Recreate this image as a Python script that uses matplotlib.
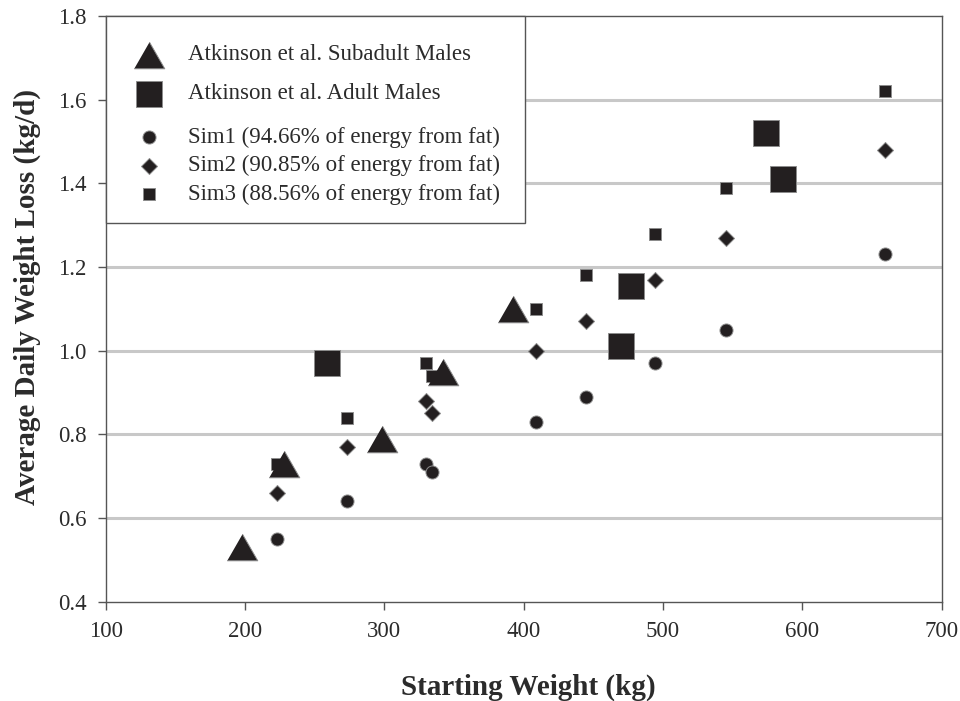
import matplotlib
matplotlib.use("Agg")
import matplotlib.pyplot as plt
from matplotlib.lines import Line2D
from matplotlib.patches import Rectangle

plt.rcParams['font.family'] = ['Liberation Serif', 'DejaVu Serif']

# Atkinson et al. observations
subadult_x = [198, 228, 298, 342, 392]
subadult_y = [0.53, 0.73, 0.79, 0.95, 1.10]
adult_x = [259, 470, 477, 574, 586]
adult_y = [0.97, 1.01, 1.155, 1.52, 1.41]

# Simulation runs (same starting weights)
sim_x = [223, 273, 330, 334, 409, 445, 494, 545, 659]
sim1_y = [0.55, 0.64, 0.73, 0.71, 0.83, 0.89, 0.97, 1.05, 1.23]
sim2_y = [0.66, 0.77, 0.88, 0.85, 1.00, 1.07, 1.17, 1.27, 1.48]
sim3_y = [0.73, 0.84, 0.97, 0.94, 1.10, 1.18, 1.28, 1.39, 1.62]

labels = ["Atkinson et al. Subadult Males",
          "Atkinson et al. Adult Males",
          "Sim1 (94.66% of energy from fat)",
          "Sim2 (90.85% of energy from fat)",
          "Sim3 (88.56% of energy from fat)"]

x_ticks = [100, 200, 300, 400, 500, 600, 700]
y_ticks = [0.4, 0.6, 0.8, 1.0, 1.2, 1.4, 1.6, 1.8]

FILL = '#231f20'
EDGE = '#8c8c8c'
TEXT = '#2b2b2b'
SPINE = '#555555'

tri = [(-1.0, -0.87), (1.0, -0.87), (0.0, 0.87)]
styles = [
    dict(marker=tri, ms=22),
    dict(marker='s', ms=18.7),
    dict(marker='o', ms=9.4),
    dict(marker='D', ms=8.0),
    dict(marker='s', ms=8.6),
]

fig = plt.figure(figsize=(9.6, 7.01), dpi=100)
ax = fig.add_axes([0.1101, 0.1417, 0.9810 - 0.1101, 0.9772 - 0.1417])

series = [(sim_x, sim1_y, styles[2]), (sim_x, sim2_y, styles[3]),
          (sim_x, sim3_y, styles[4]),
          (adult_x, adult_y, styles[1]), (subadult_x, subadult_y, styles[0])]
for xs, ys, st in series:
    ax.plot(xs, ys, linestyle='none', marker=st['marker'], markersize=st['ms'],
            markerfacecolor=FILL, markeredgecolor=EDGE, markeredgewidth=0.7,
            zorder=3)

ax.set_xlim(100, 700)
ax.set_ylim(0.4, 1.8)
ax.set_xticks(x_ticks)
ax.set_yticks(y_ticks)
ax.set_xticklabels([str(v) for v in x_ticks])
ax.set_yticklabels([f"{v:.1f}" for v in y_ticks])

for v in y_ticks[1:-1]:
    ax.axhline(v, color='#c8c8c8', lw=2.2, zorder=1)

for s in ax.spines.values():
    s.set_color(SPINE)
    s.set_linewidth(1.0)
ax.tick_params(direction='out', length=6, width=1.0, color=SPINE,
               labelsize=16.5, labelcolor=TEXT, pad=8)

ax.set_xlabel("Starting Weight (kg)", fontsize=21, fontweight='bold',
              color=TEXT, va='center')
ax.xaxis.set_label_coords(0.505, -0.1456)
ax.set_ylabel("Average Daily Weight Loss (kg/d)", fontsize=21,
              fontweight='bold', color=TEXT, va='center')
ax.yaxis.set_label_coords(-0.094, 0.52)

# Legend box in the upper left corner
ax.add_patch(Rectangle((0, 0.647), 0.502, 0.353, transform=ax.transAxes,
                       facecolor='white', edgecolor=SPINE, lw=1.0, zorder=5,
                       clip_on=False))
row_y = [0.9334, 0.8668, 0.7934, 0.7444, 0.6956]
for yy, lab, st in zip(row_y, labels, styles):
    ax.add_line(Line2D([0.0518], [yy], transform=ax.transAxes,
                       linestyle='none', marker=st['marker'],
                       markersize=st['ms'], markerfacecolor=FILL,
                       markeredgecolor=EDGE, markeredgewidth=0.7, zorder=6))
    ax.text(0.0988, yy, lab, transform=ax.transAxes, fontsize=16.5,
            color=TEXT, va='center', ha='left', zorder=6)

fig.savefig("out.png", dpi=100)
